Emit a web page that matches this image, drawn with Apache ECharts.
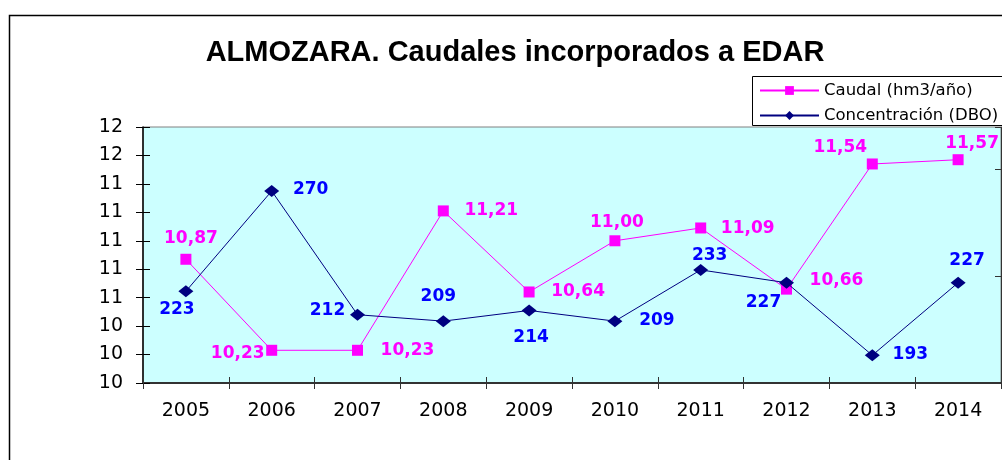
<!DOCTYPE html>
<html>
<head>
<meta charset="utf-8">
<script src="https://cdn.jsdelivr.net/npm/echarts@6/dist/echarts.min.js"></script>
<style>
  html, body { margin: 0; padding: 0; background: #ffffff; }
  #chart { width: 1002px; height: 460px; }
</style>
</head>
<body>
<div id="chart"></div>
<script>
// ---- data ----
const years = ['2005', '2006', '2007', '2008', '2009', '2010', '2011', '2012', '2013', '2014'];
const caudal = [10.87, 10.23, 10.23, 11.21, 10.64, 11.00, 11.09, 10.66, 11.54, 11.57];
const dbo = [223, 270, 212, 209, 214, 209, 233, 227, 193, 227];
const leftTickLabels = ['10', '10', '10', '11', '11', '11', '11', '11', '12', '12'];
const seriesNames = ['Caudal (hm3/año)', 'Concentración (DBO)'];
const titleText = 'ALMOZARA. Caudales incorporados a EDAR';

// ---- label placement (style, not data) ----
const caudalLabelOffset = [[5,-21],[-34,3],[50,0],[48,0],[49,0],[2,-18],[47,1],[50,-9],[-32,-16],[14,-16]];
const dboLabelOffset = [[-9,18],[39,-1],[-30,-4],[-5,-25],[2,27],[42,-1],[9,-14],[-23,20],[38,-1],[9,-22]];

const labelBase = {
  show: true, position: 'inside', align: 'center', verticalAlign: 'middle',
  fontFamily: 'DejaVu Sans', fontWeight: 'bold', fontSize: 17
};

const chart = echarts.init(document.getElementById('chart'), null, { renderer: 'canvas' });

const grid = { left: 143, top: 127, width: 858, height: 256, show: true,
  backgroundColor: '#CCFFFF', borderColor: '#808080', borderWidth: 1, containLabel: false };

const option = {
  animation: false,
  backgroundColor: '#ffffff',
  title: {
    text: titleText, left: 510, top: 33, textAlign: 'center',
    textStyle: { fontFamily: 'Liberation Sans', fontWeight: 'bold', fontSize: 29, color: '#000' }
  },
  legend: {
    data: seriesNames, orient: 'vertical', left: 752, top: 78,
    itemWidth: 59, itemHeight: 11, itemGap: 8, padding: [4, 8, 4, 7],
    borderWidth: 0, backgroundColor: 'transparent', z: 10,
    textStyle: { fontFamily: 'DejaVu Sans', fontSize: 16.5, color: '#000' }
  },
  graphic: [{
    type: 'rect', left: 7, top: 13, z: -10, silent: true,
    shape: { x: 0, y: 0, width: 1200, height: 700 },
    style: { fill: 'none', stroke: '#000', lineWidth: 1.5 }
  }, {
    type: 'rect', left: 752, top: 76, z: 5, silent: true,
    shape: { x: 0, y: 0, width: 400, height: 49 },
    style: { fill: '#fff', stroke: '#000', lineWidth: 1 }
  }],
  grid: grid,
  xAxis: [{
    type: 'category', data: years, boundaryGap: true, position: 'bottom',
    axisLine: { lineStyle: { color: '#333', width: 2 } },
    axisTick: { show: true, length: 6, lineStyle: { color: '#333' } },
    axisLabel: { fontFamily: 'DejaVu Sans', fontSize: 19, color: '#000', margin: 19 },
    splitLine: { show: false }
  }, {
    type: 'category', data: years, boundaryGap: true, position: 'bottom',
    axisLine: { show: false },
    axisTick: { show: true, inside: true, length: 6, lineStyle: { color: '#333' } },
    axisLabel: { show: false }, splitLine: { show: false }
  }],
  yAxis: [{
    type: 'value', position: 'left', min: 10, max: 11.8, interval: 0.2,
    axisLine: { show: true, lineStyle: { color: '#000', width: 1.5 } },
    axisTick: { show: true, length: 7, lineStyle: { color: '#000' } },
    axisLabel: { fontFamily: 'DejaVu Sans', fontSize: 19, color: '#000', margin: 20,
      formatter: (v, i) => leftTickLabels[i] },
    splitLine: { show: false }
  }, {
    type: 'value', position: 'right', min: 180, max: 300, interval: 50,
    axisLine: { show: true, lineStyle: { color: '#333', width: 1 } },
    axisTick: { show: true, inside: true, length: 6, lineStyle: { color: '#333' } },
    axisLabel: { show: false }, splitLine: { show: false }
  }, {
    type: 'value', position: 'left', min: 10, max: 11.8, interval: 0.2,
    axisLine: { show: false },
    axisTick: { show: true, inside: true, length: 7, lineStyle: { color: '#000' } },
    axisLabel: { show: false }, splitLine: { show: false }
  }],
  series: [{
    name: seriesNames[0], type: 'line', xAxisIndex: 0, yAxisIndex: 0,
    data: caudal.map((v, i) => ({
      value: v,
      label: Object.assign({}, labelBase, { offset: caudalLabelOffset[i] })
    })),
    symbol: 'rect', symbolSize: 11,
    lineStyle: { color: '#FF00FF', width: 1 },
    itemStyle: { color: '#FF00FF' },
    label: Object.assign({}, labelBase, { color: '#FF00FF',
      formatter: p => p.value.toFixed(2).replace('.', ',') }),
    z: 2
  }, {
    name: seriesNames[1], type: 'line', xAxisIndex: 0, yAxisIndex: 1,
    data: dbo.map((v, i) => ({
      value: v,
      label: Object.assign({}, labelBase, { offset: dboLabelOffset[i] })
    })),
    symbol: 'diamond', symbolSize: [15, 12],
    lineStyle: { color: '#000080', width: 1 },
    itemStyle: { color: '#000080' },
    label: Object.assign({}, labelBase, { color: '#0000FF',
      formatter: p => String(p.value) }),
    z: 3
  }]
};
chart.setOption(option);
</script>
</body>
</html>
